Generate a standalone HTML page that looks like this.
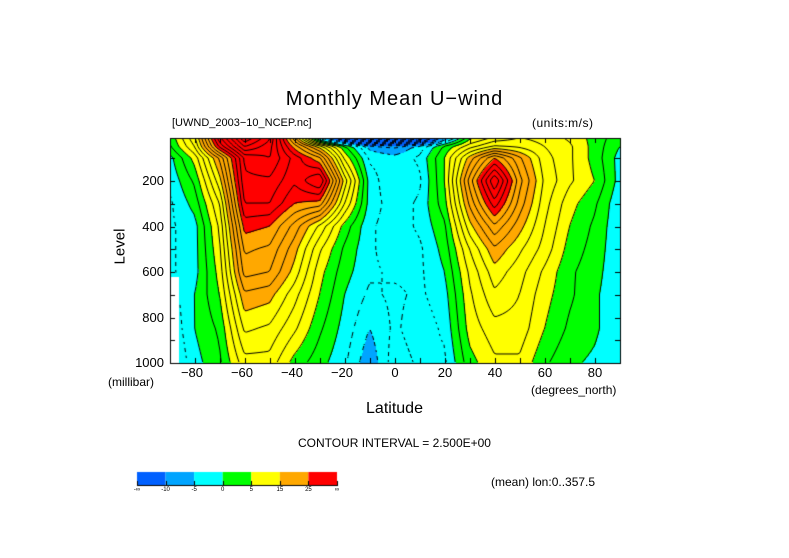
<!DOCTYPE html>
<html><head><meta charset="utf-8">
<style>
body{margin:0;background:#fff;width:789px;height:558px;overflow:hidden;position:relative;font-family:"Liberation Sans",sans-serif;}
.t{position:absolute;white-space:nowrap;color:#000;}
canvas{position:absolute;left:0;top:0;}
</style></head><body>
<canvas id="c" width="789" height="558"></canvas>
<div class="t" style="left:0;width:789px;text-align:center;top:88px;font-size:20px;letter-spacing:1px;">Monthly Mean U&#8722;wind</div>
<div class="t" style="left:172px;top:117px;font-size:11px;">[UWND_2003&#8722;10_NCEP.nc]</div>
<div class="t" style="left:532px;top:116px;font-size:12px;letter-spacing:0.5px;">(units:m/s)</div>
<div class="t" style="left:95px;top:238px;font-size:15px;transform:rotate(-90deg);width:50px;text-align:center;">Level</div>
<div class="t" style="left:108px;top:375px;font-size:12px;">(millibar)</div>
<div class="t" style="left:531px;top:383px;font-size:12px;">(degrees_north)</div>
<div class="t" style="left:0;width:789px;text-align:center;top:400px;font-size:16px;">Latitude</div>
<div class="t" style="left:0;width:789px;text-align:center;top:436px;font-size:12px;">CONTOUR INTERVAL = 2.500E+00</div>
<div class="t" style="left:491px;top:475px;font-size:12px;">(mean) lon:0..357.5</div>
<div id="lab"></div>
<script>
const lats=[-90,-80,-70,-60,-50,-40,-30,-20,-10,0,10,20,30,40,50,60,70,80,90];
const levels=[10,50,100,200,300,400,500,600,700,850,1000];
const u10  =[3,12,32,45,38,18,-5,-20,-30,-35,-25,-8,4,8,10,9,7,4,1];
const u50  =[2,10,28,40,36,24,14,3,-6,-8,-4,3,9,13,12,10,8,4,0];
const u100 =[-1,6,18,33,35,29,23,7,-3,-4,-2,5,16,25,18,11,8,4,-1];
const u200 =[-2,3,14,32,32,28,33,14,-1,-5,-3,5,21,35,21,12,8,5,-1];
const u300 =[-3,1,10,30,30,25,24,10,-1,-4,-2,4,18,29,19,11,6,3,-2];
const u400 =[-3,-1,8,26,25,19,12,4,-2,-4,-2,2,14,22,16,10,5,2,-2];
const u500 =[-3,-1,7,23,22,16,8,2,-2,-4,-3,1,10,17,13,9,4,1.5,-2];
const u600 =[-3,-1,6,21,20,14,6,1,-2,-3,-3,0,8,14,11,7,3,1,-2];
const u700 =[-4,0,5,17,16,11,5,0,-3,-2,-3,-1,7,12,10,6,3,0.5,-2];
const u850 =[-5,0,3,13,12,8,3,-1,-5,-2,-4,-2,6,9,9,5,2,0.5,-2];
const u1000=[-6,-1,2,9,9,4,1,-2,-7,-1,-3,-3,4,7,7,3,0.5,-0.5,-2];
const rows=[u10,u50,u100,u200,u300,u400,u500,u600,u700,u850,u1000];
const missingLatMax=-86.5, missingPMin=620;
const bandEdges=[-10,-5,0,5,15,25];
const bandColors=['#0060ff','#00a4ff','#00ffff','#00ff00','#ffff00','#ffa800','#ff0000'];
const bandLabels=['-\u221e','-10','-5','0','5','15','25','\u221e'];
const xTicks=[-80,-60,-40,-20,0,20,40,60,80];
const yTicks=[200,400,600,800,1000];

const X0=170,X1=620,Y0=138,Y1=363,P0=10,P1=1000,LAT0=-90,LAT1=90;
const xs=l=>X0+(l-LAT0)/(LAT1-LAT0)*(X1-X0);
const ys=p=>Y0+(p-P0)/(P1-P0)*(Y1-Y0);
function field(lat,p){
  if(lat<missingLatMax&&p>missingPMin)return null;
  let i=0;while(i<lats.length-2&&lat>lats[i+1])i++;
  let j=0;while(j<levels.length-2&&p>levels[j+1])j++;
  const fx=Math.min(1,Math.max(0,(lat-lats[i])/(lats[i+1]-lats[i])));
  const fy=Math.min(1,Math.max(0,(p-levels[j])/(levels[j+1]-levels[j])));
  const a=rows[j][i],b=rows[j][i+1],c=rows[j+1][i],d=rows[j+1][i+1];
  return (a*(1-fx)+b*fx)*(1-fy)+(c*(1-fx)+d*fx)*fy;
}
const cv=document.getElementById('c'),ctx=cv.getContext('2d');
ctx.fillStyle='#fff';ctx.fillRect(0,0,789,558);
const W=X1-X0,H=Y1-Y0;
const img=ctx.createImageData(W,H);
function hex(h){return [parseInt(h.substr(1,2),16),parseInt(h.substr(3,2),16),parseInt(h.substr(5,2),16)];}
const rgb=bandColors.map(hex);
const F=[];
for(let y=0;y<=H;y++){F.push([]);for(let x=0;x<=W;x++){
  const lat=LAT0+(x+0.5)/W*(LAT1-LAT0),p=P0+(y+0.5)/H*(P1-P0);F[y].push(field(lat,p));}}
for(let y=0;y<H;y++)for(let x=0;x<W;x++){
  const v=F[y][x];const k=(y*W+x)*4;
  if(v===null){img.data[k]=img.data[k+1]=img.data[k+2]=255;img.data[k+3]=255;continue;}
  let b=0;while(b<bandEdges.length&&v>=bandEdges[b])b++;
  img.data[k]=rgb[b][0];img.data[k+1]=rgb[b][1];img.data[k+2]=rgb[b][2];img.data[k+3]=255;
}
ctx.putImageData(img,X0,Y0);
ctx.save();ctx.beginPath();ctx.rect(X0,Y0,W,H);ctx.clip();
ctx.lineWidth=1;ctx.strokeStyle='#000';
const S=2;
for(let lv=-40;lv<=50;lv+=2.5){
  ctx.beginPath();
  for(let y=0;y+S<=H;y+=S)for(let x=0;x+S<=W;x+=S){
    if(lv<0&&((x+y)/S)%4>=2)continue;
    const a=F[y][x],b=F[y][x+S],c=F[y+S][x+S],d=F[y+S][x];
    if(a===null||b===null||c===null||d===null)continue;
    const pts=[];
    const e=(v1,v2,x1,y1,x2,y2)=>{if((v1<lv)!==(v2<lv)){const t=(lv-v1)/(v2-v1);pts.push([x1+t*(x2-x1),y1+t*(y2-y1)]);}};
    e(a,b,x,y,x+S,y);e(b,c,x+S,y,x+S,y+S);e(d,c,x,y+S,x+S,y+S);e(a,d,x,y,x,y+S);
    for(let q=0;q+1<pts.length;q+=2){ctx.moveTo(X0+pts[q][0],Y0+pts[q][1]);ctx.lineTo(X0+pts[q+1][0],Y0+pts[q+1][1]);}
  }
  ctx.stroke();
}
ctx.restore();
ctx.strokeStyle='#000';ctx.lineWidth=1;
ctx.strokeRect(X0+0.5,Y0+0.5,W,H);
ctx.beginPath();
for(let l=-80;l<=80;l+=10){const x=Math.round(xs(l))+0.5;ctx.moveTo(x,Y1);ctx.lineTo(x,Y1-5);ctx.moveTo(x,Y0);ctx.lineTo(x,Y0+5);}
for(let p=100;p<=1000;p+=100){const y=Math.round(ys(p))+0.5;ctx.moveTo(X0,y);ctx.lineTo(X0+5,y);ctx.moveTo(X1,y);ctx.lineTo(X1-5,y);}
ctx.stroke();
const CB0=137,CBW=200/bandColors.length,CBY=472,CBH=13;
bandColors.forEach((c,i)=>{ctx.fillStyle=c;ctx.fillRect(CB0+i*CBW,CBY,CBW,CBH);});
ctx.beginPath();ctx.moveTo(CB0,CBY+CBH+0.5);ctx.lineTo(CB0+200,CBY+CBH+0.5);
for(let i=0;i<=bandColors.length;i++){const x=Math.round(CB0+i*CBW)+0.5;ctx.moveTo(x,CBY+CBH-4);ctx.lineTo(x,CBY+CBH+1);}
ctx.stroke();
const lab=document.getElementById('lab');
function addT(txt,x,y,fs,name,align){
  const d=document.createElement('div');d.className='t';
  
  
  d.textContent=txt;d.style.fontSize=fs+'px';d.style.top=y+'px';
  if(align==='r'){d.style.left=(x-60)+'px';d.style.width='60px';d.style.textAlign='right';}
  else{d.style.left=(x-30)+'px';d.style.width='60px';d.style.textAlign='center';}
  lab.appendChild(d);
}
xTicks.forEach(l=>addT(l<0?'\u2212'+(-l):String(l),xs(l)-(l<0?3:0),365,13,'x-tick-label','c'));
yTicks.forEach(p=>addT(String(p),164,ys(p)-8,13,'y-tick-label','r'));
bandLabels.forEach((t,i)=>addT(t,CB0+i*CBW,487,6,'colorbar-label','c'));
</script>
</body></html>
